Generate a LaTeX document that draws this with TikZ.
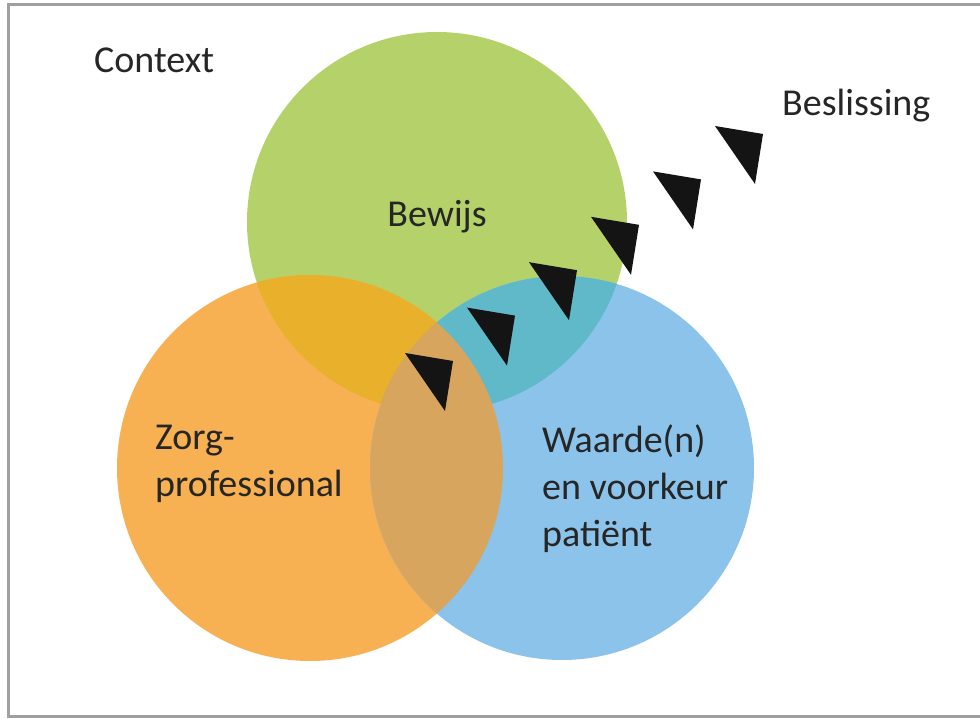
\documentclass[tikz,border=0pt]{standalone}
\usepackage{fontspec}
\setmainfont{Carlito}
\definecolor{bewijsgreen}{RGB}{181,210,106}
\definecolor{zorgorange}{RGB}{247,176,82}
\definecolor{patientblue}{RGB}{140,195,234}
\definecolor{greenorange}{RGB}{233,176,44}
\definecolor{greenblue}{RGB}{96,185,201}
\definecolor{orangeblue}{RGB}{216,165,94}
\definecolor{framegray}{RGB}{160,160,160}
\tikzset{
  label text/.style={inner sep=0pt, text=black!85, font=\fontsize{38}{47}\selectfont},
  marker/.style={fill=black!92},
}
\begin{document}
\begin{tikzpicture}[x=1pt,y=-1pt]

\useasboundingbox (0,0) rectangle (980,719);

% ----------------------------------------------------------
% Frame (right edge falls outside the picture)
% ----------------------------------------------------------
\draw[framegray, line width=3pt] (8,5) rectangle (995,716);

% ----------------------------------------------------------
% Circles
% ----------------------------------------------------------
\coordinate (G) at (437,222);
\coordinate (O) at (310,468);
\coordinate (B) at (562,468);

\fill[bewijsgreen] (G) circle (190pt);
\fill[zorgorange] (O) circle (193pt);
\fill[patientblue] (B) circle (192pt);

% ----------------------------------------------------------
% Overlaps
% ----------------------------------------------------------
\begin{scope}
  \clip (G) circle (190pt);
  \fill[greenorange] (O) circle (193pt);
  \fill[greenblue] (B) circle (192pt);
\end{scope}
\begin{scope}
  \clip (O) circle (193pt);
  \fill[orangeblue] (B) circle (192pt);
\end{scope}

% ----------------------------------------------------------
% Decision markers
% ----------------------------------------------------------
\foreach \k in {0,...,5} {
    \fill[marker] (405+62*\k,353-45.4*\k) -- ++(48,8) -- ++(-8,50) -- cycle;
}

% ----------------------------------------------------------
% Labels (base = last line)
% ----------------------------------------------------------
\node[label text, anchor=base west] (context) at (94,73) {Context};
\node[label text, anchor=base west] (beslissing) at (782,116) {Beslissing};
\node[label text, anchor=base] (bewijs) at (437,227) {Bewijs};
\node[label text, anchor=base west, align=left] (zorg) at (155,496) {Zorg-\\professional};
\node[label text, anchor=base west, align=left] (waarde) at (542,546) {Waarde(n)\\en voorkeur\\patiënt};

\end{tikzpicture}
\end{document}
